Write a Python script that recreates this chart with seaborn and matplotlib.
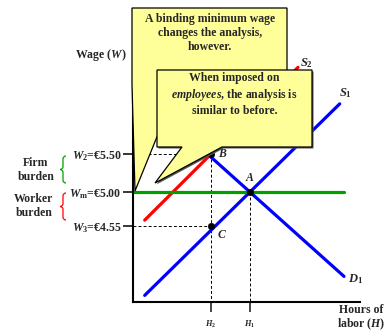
import matplotlib
matplotlib.use("Agg")
import matplotlib.pyplot as plt
from matplotlib.patches import Polygon, PathPatch
from matplotlib.path import Path
import seaborn as sns

# labelled wage levels (euro) and hours positions
wage_ticks = [5.50, 5.00, 4.55]
wage_labels = [r"$W_2$=€5.50", r"$W_\mathrm{m}$=€5.00", r"$W_3$=€4.55"]
hours_ticks = [20, 30]
hours_labels = [r"$H_2$", r"$H_1$"]

# curves
s1_hours = [3, 53]
s1_wage = [3.64, 6.16]
s2_hours = [3, 42.3]
s2_wage = [4.63, 6.64]
d1_hours = [2.6, 54.1]
d1_wage = [6.26, 3.89]
wm_hours = [0, 54.1]
wm_wage = [5.00, 5.00]

# equilibrium points
pt_names = ["A", "B", "C"]
pt_hours = [30, 20, 20]
pt_wage = [5.00, 5.50, 4.55]

sns.set_style("white")
plt.rcParams["font.family"] = ["Liberation Serif", "DejaVu Serif"]
plt.rcParams["font.weight"] = "bold"
plt.rcParams["mathtext.fontset"] = "custom"
plt.rcParams["mathtext.rm"] = "Liberation Serif:bold"
plt.rcParams["mathtext.it"] = "Liberation Serif:italic:bold"
plt.rcParams["mathtext.bf"] = "Liberation Serif:bold"

W, H = 388, 333
fig = plt.figure(figsize=(W / 100, H / 100), dpi=100)
ax = fig.add_axes([133 / W, (H - 302) / H, 227 / W, 242 / H])
ax.set_xlim(0, 58.2)
ax.set_ylim(3.553, 6.737)

blue, red, green = "#0000ff", "#ff0000", "#00a000"
sns.lineplot(x=s1_hours, y=s1_wage, color=blue, linewidth=2.3, ax=ax)
sns.lineplot(x=d1_hours, y=d1_wage, color=blue, linewidth=2.3, ax=ax)
sns.lineplot(x=s2_hours, y=s2_wage, color=red, linewidth=2.3, ax=ax)
sns.lineplot(x=wm_hours, y=wm_wage, color=green, linewidth=2.3, ax=ax)

dash = (0, (3, 2.2))
ax.plot([0, pt_hours[1]], [pt_wage[1]] * 2, color="black", lw=0.7, ls=dash, zorder=1)
ax.plot([0, pt_hours[2]], [pt_wage[2]] * 2, color="black", lw=0.7, ls=dash, zorder=1)
ax.plot([pt_hours[1]] * 2, [pt_wage[1], 3.553], color="black", lw=0.7, ls=dash, zorder=1)
ax.plot([pt_hours[0]] * 2, [pt_wage[0], 3.553], color="black", lw=0.7, ls=dash, zorder=1)

sns.scatterplot(x=pt_hours, y=pt_wage, color="black", s=22, zorder=5, ax=ax, edgecolor="black")

offsets = {"A": (0, 6, "center", "bottom"), "B": (5, 0, "left", "center"),
           "C": (5, -6, "left", "center")}
for n, h, w in zip(pt_names, pt_hours, pt_wage):
    dx, dy, ha, va = offsets[n]
    ax.annotate(n, (h, w), xytext=(dx, dy), textcoords="offset points",
                ha=ha, va=va, fontsize=8.5, style="italic", fontweight="bold")
ax.annotate(r"$D_1$", (d1_hours[1], d1_wage[1]), xytext=(3, -2), textcoords="offset points",
            ha="left", va="center", fontsize=9)
ax.annotate(r"$S_1$", (s1_hours[1], s1_wage[1]), xytext=(4, 8), textcoords="offset points",
            ha="center", va="center", fontsize=9)
ax.annotate(r"$S_2$", (s2_hours[1], s2_wage[1]), xytext=(6, 3), textcoords="offset points",
            ha="center", va="center", fontsize=9)

for side in ["top", "right"]:
    ax.spines[side].set_visible(False)
for side in ["left", "bottom"]:
    ax.spines[side].set_linewidth(1.5)
    ax.spines[side].set_color("black")
ax.set_yticks(wage_ticks)
ax.set_yticklabels(wage_labels, fontsize=8.5)
ax.set_xticks(hours_ticks)
ax.set_xticklabels(hours_labels, fontsize=6)
ax.tick_params(axis="y", direction="out", length=7.5, width=1.3, pad=1, left=True)
ax.tick_params(axis="x", direction="out", length=7, width=1.2, pad=5, bottom=True)
ax.patch.set_alpha(0)

# overlay in pixel coordinates for callouts and free labels
ov = fig.add_axes([0, 0, 1, 1])
ov.set_xlim(0, W)
ov.set_ylim(H, 0)
ov.axis("off")
ov.patch.set_alpha(0)

yellow = "#ffff99"
box1 = [(132, 8), (287, 8), (287, 85), (178, 85), (135, 191), (132, 85)]
box2 = [(157, 70), (312, 70), (312, 147), (222, 147), (155, 183), (182, 147), (157, 147)]
shadow2 = [(x + 1.5, y + 1.5) for x, y in box2]
ov.add_patch(Polygon(box1, closed=True, fc=yellow, ec="black", lw=0.9, zorder=2))
ov.add_patch(Polygon(shadow2, closed=True, fc="#555555", ec="none", zorder=3))
ov.add_patch(Polygon(box2, closed=True, fc=yellow, ec="black", lw=0.9, zorder=4))
ov.text(210, 33, "A binding minimum wage\nchanges the analysis,\nhowever.", ha="center", va="center",
        fontsize=8.5, linespacing=1.25, zorder=5)
ov.text(234.5, 95, "When imposed on\n" + r"$employees$" + ", the analysis is\nsimilar to before.",
        ha="center", va="center", fontsize=8.5, linespacing=1.25, zorder=5)

ov.text(127, 55, r"Wage ($W$)", ha="right", va="center", fontsize=8.5)
ov.text(36, 170, "Firm\nburden", ha="center", va="center", fontsize=8.5, linespacing=1.15)
ov.text(34, 206, "Worker\nburden", ha="center", va="center", fontsize=8.5, linespacing=1.15)
ov.text(361, 318, "Hours of\n" + r"labor ($H$)", ha="center", va="center", fontsize=8.5,
        linespacing=1.1)


def brace(x, y0, y1, color):
    ym = (y0 + y1) / 2
    verts = [(x + 3, y0), (x, y0), (x, y0 + 3), (x, y0 + 3),
             (x, ym - 3), (x, ym - 3), (x, ym), (x - 3, ym),
             (x, ym), (x, ym + 3), (x, ym + 3), (x, y1 - 3),
             (x, y1 - 3), (x, y1), (x + 3, y1)]
    codes = [Path.MOVETO, Path.CURVE3, Path.CURVE3, Path.LINETO,
             Path.LINETO, Path.LINETO, Path.CURVE3, Path.CURVE3,
             Path.CURVE3, Path.CURVE3, Path.LINETO, Path.LINETO,
             Path.LINETO, Path.CURVE3, Path.CURVE3]
    ov.add_patch(PathPatch(Path(verts, codes), fc="none", ec=color, lw=0.9))


brace(63, 156, 183, green)
brace(63, 193, 220, red)

fig.savefig("out.png", dpi=100)
